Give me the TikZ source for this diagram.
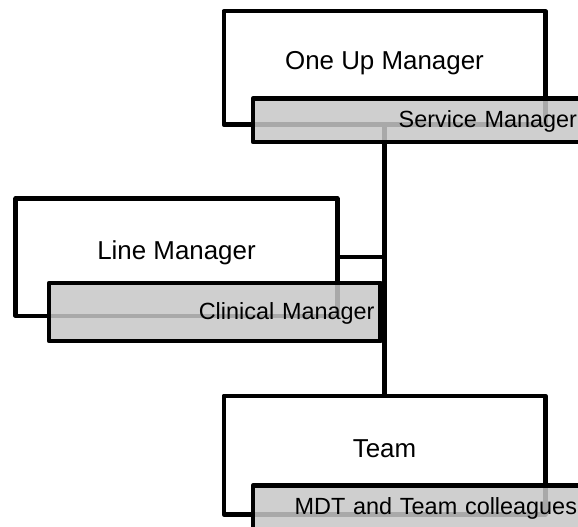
\documentclass[tikz,border=0pt]{standalone}
\usepackage{fontspec}
\setmainfont{Liberation Sans}
\usetikzlibrary{shapes.geometric, arrows}

\begin{document}
\begin{tikzpicture}[x=1bp, y=-1bp,
    rolebox/.style={rectangle, draw, line width=4.5bp, line join=round, fill=white,
        minimum width=321.5bp, inner sep=0pt, text height=4bp, text depth=0bp,
        font=\fontsize{26}{30}\selectfont},
    namebox/.style={rectangle, draw, line width=4.5bp, line join=round,
        fill=black!22, fill opacity=0.85, text opacity=1, draw opacity=1,
        inner xsep=6bp, inner ysep=0pt, align=right, text height=14bp, text depth=0bp,
        font=\fontsize{23.5}{28}\selectfont},
    link/.style={draw, line width=4.5bp}]
    \path[use as bounding box, clip] (0,0) rectangle (578,527);
    % Nodes
    \node (oneup) [rolebox, minimum height=113.5bp] at (384.5,68) {One Up Manager};
    \node (linemgr) [rolebox, minimum height=117.5bp] at (176.5,257.2) {Line Manager};
    \node (team) [rolebox, minimum height=118.5bp] at (384.5,455) {Team};
    % Lines
    \draw[link] (oneup.south) -- (team.north);
    \draw[link] (linemgr.east) -- (linemgr.east -| oneup.south);
    % Names
    \node (service) [namebox, minimum width=330bp, text width=318bp, minimum height=43.5bp] at (418,120.25) {Service Manager};
    \node (clinical) [namebox, minimum width=331.5bp, text width=319.5bp, minimum height=58bp] at (214.75,312) {Clinical Manager};
    \node (mdt) [namebox, minimum width=330bp, text width=318bp, minimum height=43.5bp] at (418,507.25) {MDT and Team colleagues};
\end{tikzpicture}
\end{document}
